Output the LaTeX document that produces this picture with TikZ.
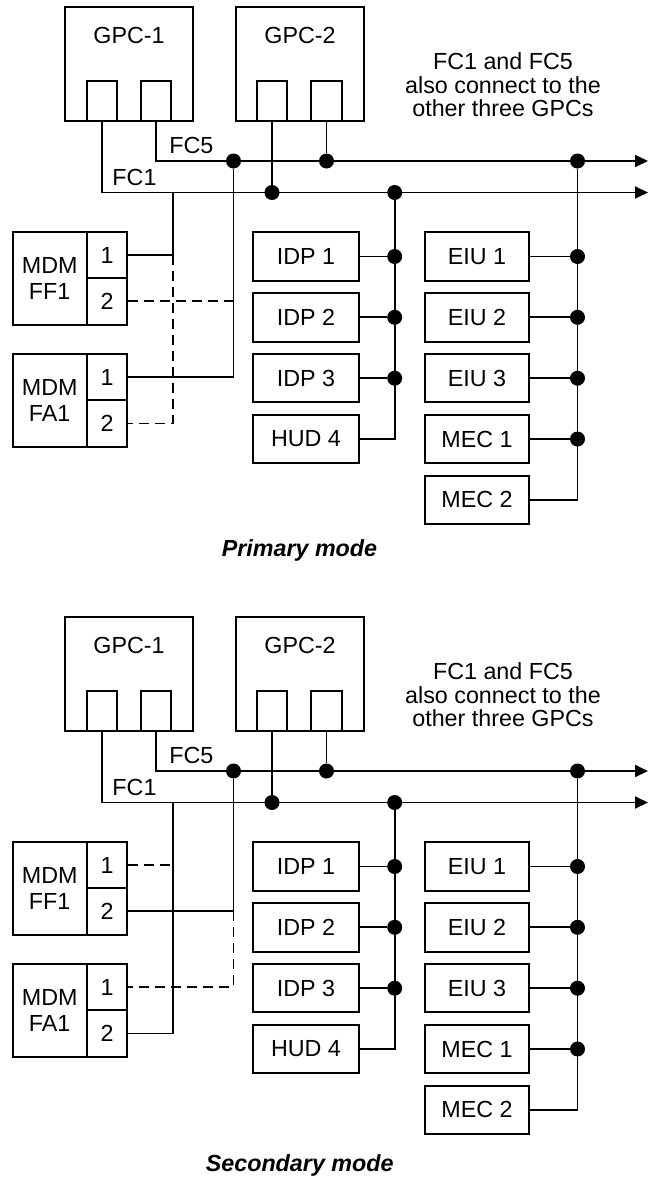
\documentclass[tikz,border=0pt]{standalone}
\usepackage{fontspec}
\setmainfont{Liberation Sans}
\usetikzlibrary{arrows.meta}
\newcommand\lbl{\fontsize{23.3}{26.5}\selectfont}
\newcommand\notefont{\fontsize{23.3}{23.4}\selectfont}
\tikzset{
  boxline/.style={draw, line width=2pt, inner sep=0pt},
  gpcbox/.style={boxline, minimum width=128pt, minimum height=113.4pt},
  portbox/.style={boxline, minimum width=30.6pt, minimum height=40pt},
  unitbox/.style={boxline, minimum height=48.5pt, font=\lbl},
  idpbox/.style={unitbox, minimum width=106.6pt},
  eiubox/.style={unitbox, minimum width=104.6pt},
  mdmleft/.style={boxline, minimum width=74pt, minimum height=92.4pt, font=\lbl, align=center},
  mdmport/.style={boxline, minimum width=40.6pt, minimum height=46.2pt, font=\lbl},
  lbl/.style={font=\lbl, inner sep=0pt},
  wire/.style={line width=1.9pt},
  dashwire/.style={wire, dash pattern=on 10pt off 6pt},
  bus/.style={wire, -{Triangle[length=13pt,width=12pt]}},
  dot/.style={circle, fill=black, inner sep=0pt, minimum size=15pt},
}
\newcommand\halfdiagram{%
  % GPCs
  \node[gpcbox] (g1) at (129,64) {};
  \node[lbl] (g1t) at (129,35) {GPC-1};
  \node[portbox] (g1a) at (102,100.7) {};
  \node[portbox] (g1b) at (156,100.7) {};
  \node[gpcbox] (g2) at (300,64) {};
  \node[lbl] (g2t) at (300,35) {GPC-2};
  \node[portbox] (g2a) at (272,100.7) {};
  \node[portbox] (g2b) at (326.5,100.7) {};
  \node[lbl, font=\notefont, align=center] (note) at (503,85) {FC1 and FC5\\also connect to the\\other three GPCs};
  % buses
  \coordinate (fc1end) at (648,192.5);
  \coordinate (fc5end) at (648,161);
  \draw[bus] (g1a.south) |- (fc1end);
  \draw[bus] (g1b.south) |- (fc5end);
  \node[lbl] (fc5t) at (191.3,145) {FC5};
  \node[lbl] (fc1t) at (134.5,177) {FC1};
  \coordinate (j1) at (173,192.5);
  \node[dot] (d5a) at (233.5,161) {};
  \node[dot] (d1a) at (272,192.5) {};
  \draw[wire] (g2a.south) -- (d1a);
  \node[dot] (d5b) at (326.5,161) {};
  \draw[wire] (g2b.south) -- (d5b);
  \node[dot] (d1b) at (394.7,192.5) {};
  \node[dot] (d5c) at (577.5,161) {};
  % MDMs
  \node[mdmleft] (ff) at (49.7,278.3) {MDM\\FF1};
  \node[mdmport] (ff1) at (107,255.2) {1};
  \node[mdmport] (ff2) at (107,301.4) {2};
  \node[mdmleft] (fa) at (49.7,400.4) {MDM\\FA1};
  \node[mdmport] (fa1) at (107,377.3) {1};
  \node[mdmport] (fa2) at (107,423.5) {2};
  % IDP column
  \node[idpbox] (idp1) at (306,256.5) {IDP 1};
  \node[idpbox] (idp2) at (306,317.3) {IDP 2};
  \node[idpbox] (idp3) at (306,378.2) {IDP 3};
  \node[idpbox] (hud4) at (306,439) {HUD 4};
  \draw[wire] (d1b) |- (hud4.east);
  \foreach \n in {idp1,idp2,idp3}{
    \node[dot] (dot-\n) at (\n.east -| d1b) {};
    \draw[wire] (\n.east) -- (dot-\n);
  }
  % EIU column
  \node[eiubox] (eiu1) at (477,256.5) {EIU 1};
  \node[eiubox] (eiu2) at (477,317.3) {EIU 2};
  \node[eiubox] (eiu3) at (477,378.2) {EIU 3};
  \node[eiubox] (mec1) at (477,439) {MEC 1};
  \node[eiubox] (mec2) at (477,499.8) {MEC 2};
  \draw[wire] (d5c) |- (mec2.east);
  \foreach \n in {eiu1,eiu2,eiu3,mec1}{
    \node[dot] (dot-\n) at (\n.east -| d5c) {};
    \draw[wire] (\n.east) -- (dot-\n);
  }
}
\begin{document}
\begin{tikzpicture}[x=1pt, y=-1pt]
\useasboundingbox (0,0) rectangle (648,1181);
\begin{scope}[name prefix=p-]
  \halfdiagram
  \draw[wire] (j1) |- (ff1.east);
  \draw[dashwire] (ff1.east -| j1) |- (fa2.east);
  \draw[wire] (d5a) |- (fa1.east);
  \draw[dashwire] (ff2.east) -- (ff2.east -| d5a);
  \node[lbl, font=\lbl\bfseries\itshape, anchor=base] (mode) at (299.5,556.7) {Primary mode};
\end{scope}
\begin{scope}[yshift=-610pt, name prefix=s-]
  \halfdiagram
  \draw[wire] (j1) |- (fa2.east);
  \draw[dashwire] (ff1.east) -- (ff1.east -| j1);
  \draw[wire] (d5a) |- (ff2.east);
  \draw[dashwire] (ff2.east -| d5a) |- (fa1.east);
  \node[lbl, font=\lbl\bfseries\itshape, anchor=base] (mode) at (299.7,561.7) {Secondary mode};
\end{scope}
\end{tikzpicture}
\end{document}
